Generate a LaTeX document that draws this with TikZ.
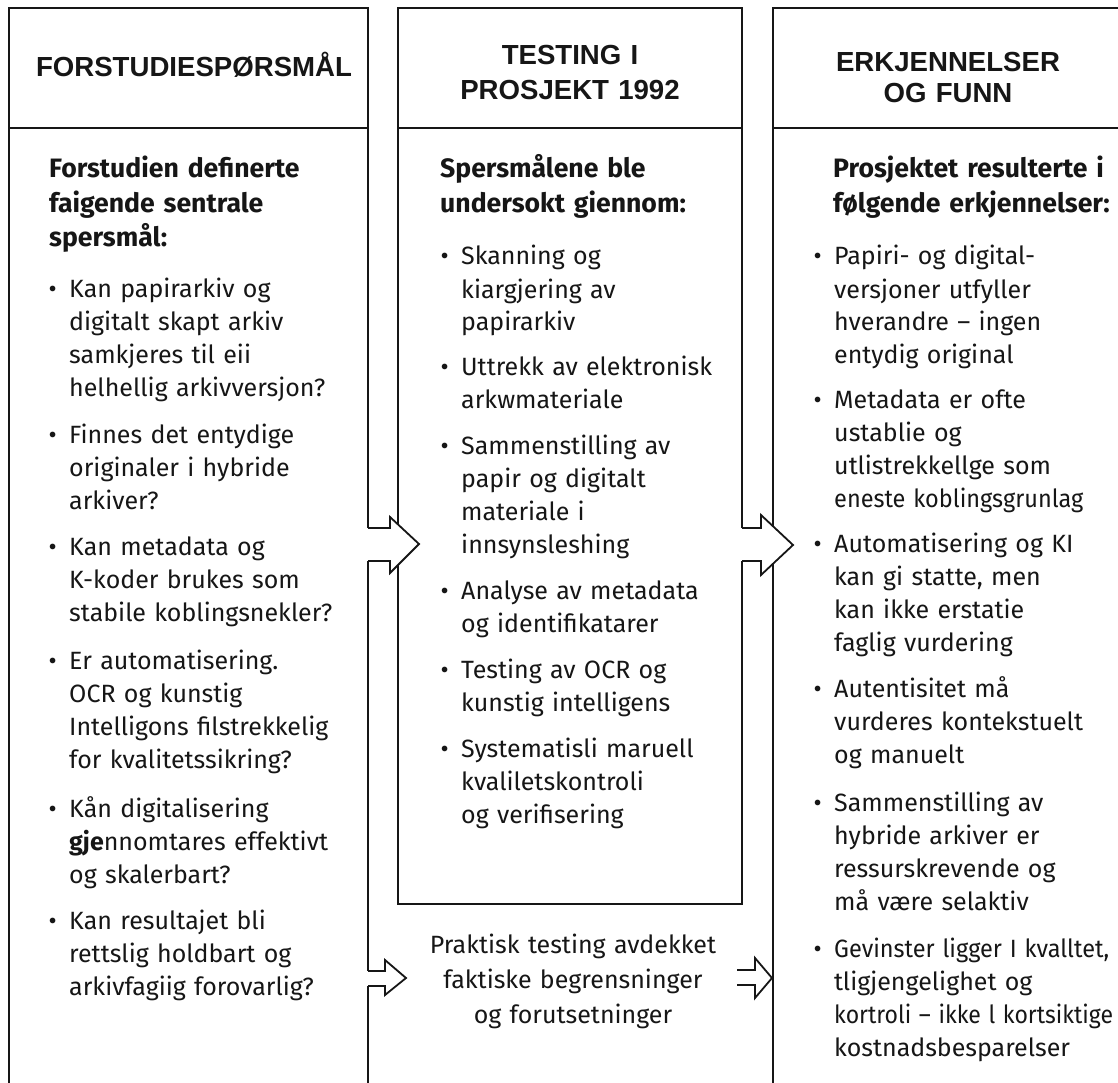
\documentclass[tikz,border=0pt]{standalone}
\usepackage{fontspec}
\usepackage{graphicx}
\setmainfont{Fira Sans}
\newfontfamily\hdrfont{Liberation Sans}
\definecolor{ink}{HTML}{161616}
\newcommand{\bul}{\leavevmode\llap{•\hspace{12.5pt}}}
\newcommand{\sqz}[2]{\scalebox{#1}[1]{#2}}
\tikzset{
  frame/.style={draw=ink, line width=1.8pt, line join=miter},
  blockarrow/.style={draw=ink, fill=white, line width=1.8pt, line join=miter},
  hdr/.style={font=\hdrfont\bfseries\fontsize{27.6}{35}\selectfont, align=center, text width=350pt, anchor=base, inner sep=0pt, text=ink},
  intro/.style={font=\bfseries\fontsize{26.6}{34.5}\selectfont, align=left, text width=330pt, anchor=base west, inner sep=0pt, text=ink},
  item/.style={font=\fontsize{25}{33}\selectfont, align=left, text width=330pt, anchor=base west, inner sep=0pt, text=ink},
  note/.style={font=\fontsize{25}{35}\selectfont, align=center, text width=340pt, anchor=base, inner sep=0pt, text=ink}
}
\begin{document}
\begin{tikzpicture}[x=1pt,y=-1pt]
\useasboundingbox (0,0) rectangle (1118,1083);
\clip (0,0) rectangle (1118,1083);
\fill[white] (0,0) rectangle (1118,1083);

% middle box
\draw[frame] (742,528) -- (742,8) -- (398,8) -- (398,904) -- (742,904) -- (742,561);
\draw[frame] (398,128) -- (742,128);
% right box
\draw[frame] (1130,8) -- (773,8) -- (773,1095);
\draw[frame] (773,128) -- (1130,128);
% left box
\draw[frame] (368,528) -- (368,8) -- (9,8) -- (9,1095);
\draw[frame] (368,561) -- (368,971);
\draw[frame] (368,986) -- (368,1095);
\draw[frame] (9,128) -- (368,128);

% block arrows
\draw[blockarrow] (368,528) -- (390,528) -- (390,517) -- (419,544) -- (390,573) -- (390,561) -- (368,561);
\draw[blockarrow] (742,528) -- (761,528) -- (761,515) -- (793,545) -- (761,575) -- (761,561) -- (742,561);
\draw[blockarrow] (368,971) -- (385,971) -- (385,960) -- (406,978) -- (385,995) -- (385,986) -- (368,986);
\draw[blockarrow] (737,970) -- (755,970) -- (755,958) -- (772,978) -- (755,998) -- (755,985) -- (737,985);

% headers
\node[hdr] (h1) at (194,77) {FORSTUDIESPØRSMÅL};
\node[hdr] (h2) at (570,65) {TESTING I\\PROSJEKT 1992};
\node[hdr, font=\hdrfont\bfseries\fontsize{27.6}{31}\selectfont] (h3) at (948,72) {ERKJENNELSER\\OG FUNN};

% intros
\node[intro] (i1) at (49,178) {Forstudien definerte\\faigende sentrale\\spersmål:};
\node[intro] (i2) at (440,178) {Spersmålene ble\\undersokt giennom:};
\node[intro] (i3) at (833,178) {Prosjektet resulterte i\\følgende erkjennelser:};

% left items
\node[item] (l1) at (69,297) {\bul Kan papirarkiv og\\digitalt skapt arkiv\\samkjeres til eii\\helhellig arkivversjon?};
\node[item] (l2) at (69,443) {\bul Finnes det entydige\\originaler i hybride\\arkiver?};
\node[item] (l3) at (69,555) {\bul Kan metadata og\\K-koder brukes som\\stabile koblingsnekler?};
\node[item] (l4) at (69,669) {\bul Er automatisering.\\OCR og kunstig\\Intelligons filstrekkelig\\for kvalitetssikring?};
\node[item] (l5) at (69,817) {\bul Kån digitalisering\\\textbf{gje}nnomtares effektivt\\og skalerbart?};
\node[item] (l6) at (69,929) {\bul Kan resultajet bli\\rettslig holdbart og\\arkivfagiig forovarlig?};

% middle items
\node[item] (m1) at (461,265) {\bul Skanning og\\kiargjering av\\papirarkiv};
\node[item] (m2) at (461,375) {\bul Uttrekk av elektronisk\\arkwmateriale};
\node[item] (m3) at (461,454) {\bul Sammenstilling av\\papir og digitalt\\materiale i\\innsynsleshing};
\node[item] (m4) at (461,599) {\bul Analyse av metadata\\og identifikatarer};
\node[item] (m5) at (461,678) {\bul Testing av OCR og\\kunstig intelligens};
\node[item] (m6) at (461,757) {\bul Systematisli maruell\\kvaliletskontroli\\og verifisering};

% bottom middle note
\node[note] (n1) at (573,953) {Praktisk testing avdekket\\faktiske begrensninger\\og forutsetninger};

% right items
\node[item] (r1) at (834,265) {\bul Papiri- og digital-\\versjoner utfyller\\hverandre – ingen\\entydig original};
\node[item] (r2) at (834,408) {\bul Metadata er ofte\\ustablie og\\utlistrekkellge som\\\sqz{0.94}{eneste koblingsgrunlag}};
\node[item] (r3) at (834,552) {\bul Automatisering og KI\\kan gi statte, men\\kan ikke erstatie\\faglig vurdering};
\node[item] (r4) at (834,697) {\bul Autentisitet må\\vurderes kontekstuelt\\og manuelt};
\node[item] (r5) at (834,811) {\bul Sammenstilling av\\hybride arkiver er\\ressurskrevende og\\må være selaktiv};
\node[item] (r6) at (834,957) {\bul \sqz{0.94}{Gevinster ligger I kvalltet,}\\tligjengelighet og\\\sqz{0.92}{kortroli – ikke l kortsiktige}\\kostnadsbesparelser};
\end{tikzpicture}
\end{document}
